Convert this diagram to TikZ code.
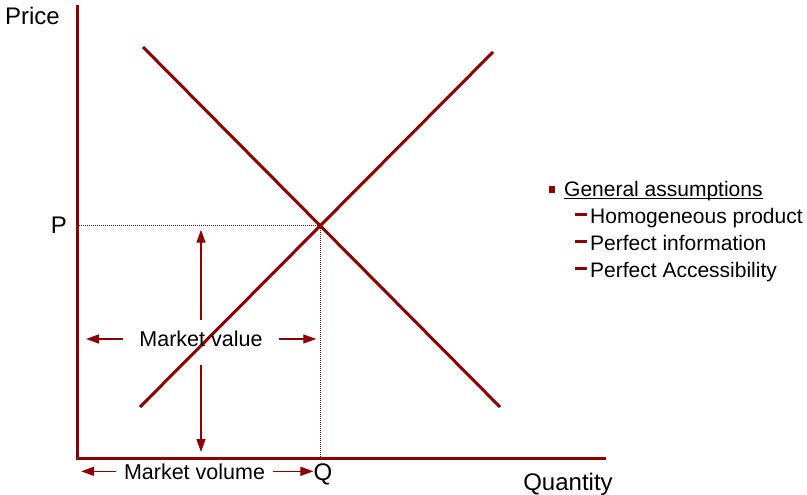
\documentclass[tikz,border=0pt]{standalone}
\usepackage{fontspec}
\setmainfont{Liberation Sans}
\usetikzlibrary{arrows.meta}
\definecolor{curvered}{RGB}{139,0,0}

\begin{document}
\begin{tikzpicture}[x=1pt,y=-1pt,
	axis/.style={curvered, line width=3pt},
	curve/.style={curvered, line width=3pt},
	guide/.style={curvered, line width=0.8pt, dash pattern=on 1pt off 1pt},
	arr/.style={curvered, line width=1.4pt, -{Triangle[length=13pt,width=9pt]}},
	lbl/.style={font=\fontsize{21.5}{25}\selectfont, inner sep=0pt},
	axlbl/.style={font=\fontsize{24}{28}\selectfont, inner sep=0pt},
	legendlbl/.style={font=\fontsize{21}{25}\selectfont, inner sep=0pt, anchor=base west},
	bulletmark/.style={fill=curvered, inner sep=0pt, minimum width=6pt, minimum height=7pt},
	dashmark/.style={fill=curvered, inner sep=0pt, minimum width=12pt, minimum height=3pt}]
		\useasboundingbox (0,0) rectangle (807,495);
		\coordinate (top) at (77,5);
		\coordinate (O) at (77,458);
		\coordinate (xend) at (606,458);
		\coordinate (d1) at (143,47);
		\coordinate (d2) at (500,407);
		\coordinate (s1) at (140,407);
		\coordinate (s2) at (493,52);
		\coordinate (E) at (intersection of d1--d2 and s1--s2);
		\draw [guide] (E -| O) -- (E) -- (E |- O);
		\draw [axis] (top) -- (O) -- (xend);
		\draw [curve] (d1) -- (d2);
		\draw [curve] (s1) -- (s2);
		\node [axlbl] (price) at (32.5,16) {Price};
		\node [axlbl] (p) at (59,225) {P};
		\node [axlbl] (q) at (323,474) {Q};
		\node [axlbl] (quantity) at (568,484) {Quantity};
		\node [lbl, text height=15.5pt, text depth=0pt, inner xsep=16pt, inner ysep=11pt] (mv) at (201,339) {Market value};
		\draw [arr, shorten >=4pt] (mv.north) -- (mv.north |- E);
		\draw [arr, shorten <=7pt, shorten >=6pt] (mv.south) -- (mv.south |- O);
		\draw [arr, shorten >=9pt] (mv.west) -- (mv.west -| O);
		\draw [arr, shorten >=4pt] (mv.east) -- (mv.east -| E);
		\node [lbl, anchor=base, inner xsep=7.5pt] (mvol) at (194.5,479) {Market volume};
		\draw [arr, shorten >=4pt] (mvol.west) -- (mvol.west -| O);
		\draw [arr] (mvol.east) -- (mvol.east -| q.west);
		\node [bulletmark] (b0) at (552,189) {};
		\node [legendlbl] (ga) at (564,196) {General assumptions};
		\draw [black, line width=1.3pt] ([yshift=-2.8pt]ga.base west) -- ([yshift=-2.8pt]ga.base east);
		\node [dashmark] (b1) at (581,214.5) {};
		\node [legendlbl] (homog) at (590,223) {Homogeneous product};
		\node [dashmark] (b2) at (581,241.5) {};
		\node [legendlbl] (info) at (590,250) {Perfect information};
		\node [dashmark] (b3) at (581,268.5) {};
		\node [legendlbl] (access) at (590,277) {Perfect Accessibility};
\end{tikzpicture}
\end{document}
